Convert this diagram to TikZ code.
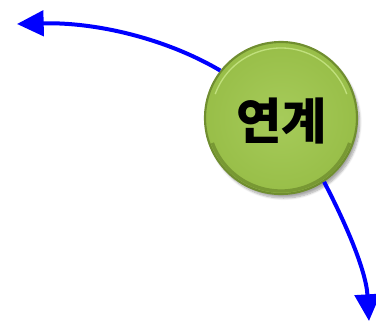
\documentclass[tikz,border=0pt]{standalone}
\usepackage{xcolor}
\usepackage{tikz}
\usepackage{fontspec}
\newfontfamily\korfont{Noto Sans CJK KR}
\usetikzlibrary{shadows.blur}
\usetikzlibrary{arrows.meta}

\definecolor{ballgreen}{RGB}{152,190,72}
\definecolor{ballrim}{RGB}{112,142,48}
\definecolor{balllight}{RGB}{166,203,90}
\definecolor{ballshine}{RGB}{192,224,124}
\definecolor{balldark}{RGB}{120,152,52}
\definecolor{flowblue}{RGB}{0,0,255}

\tikzset{
  linkball/.style={circle, minimum size=152*0.75pt, inner sep=0pt,
    inner color=balllight, outer color=ballgreen,
    draw=ballrim, line width=1.6pt,
    blur shadow={shadow xshift=2pt, shadow yshift=-3pt, shadow blur steps=8, shadow opacity=35}},
  flowarrow/.style={draw=flowblue, line width=3pt,
    -{Triangle[length=20pt, width=19pt]}}
}

\begin{document}
\begin{tikzpicture}[x=0.75pt,y=0.75pt,yscale=-1,xscale=1]
%set diagram to the size of the picture
\useasboundingbox (0,0) rectangle (376,325);

%Straight Lines
\coordinate (left end) at (17,24);
\coordinate (low end) at (369,321);

%Shape: Circle (y runs down, so 90 is the bottom)
\node [linkball] (link) at (281,118) {};
\draw [balldark, line width=2.5pt] (link.center) ++(20:73) arc [start angle=20, end angle=160, radius=73];
\draw [ballshine, line width=1pt] (link.center) ++(200:70) arc [start angle=200, end angle=340, radius=70];
% Text Node
\node [inner sep=0.75pt] at (282,121) {\korfont\bfseries\fontsize{37pt}{42pt}\selectfont 연계};

%Curves
\draw [flowarrow] (link.142) .. controls (165,38) and (95,22) .. (left end);
\draw [flowarrow] (link.-56) .. controls (345,222) and (366,270) .. (low end);

\end{tikzpicture}
\end{document}
